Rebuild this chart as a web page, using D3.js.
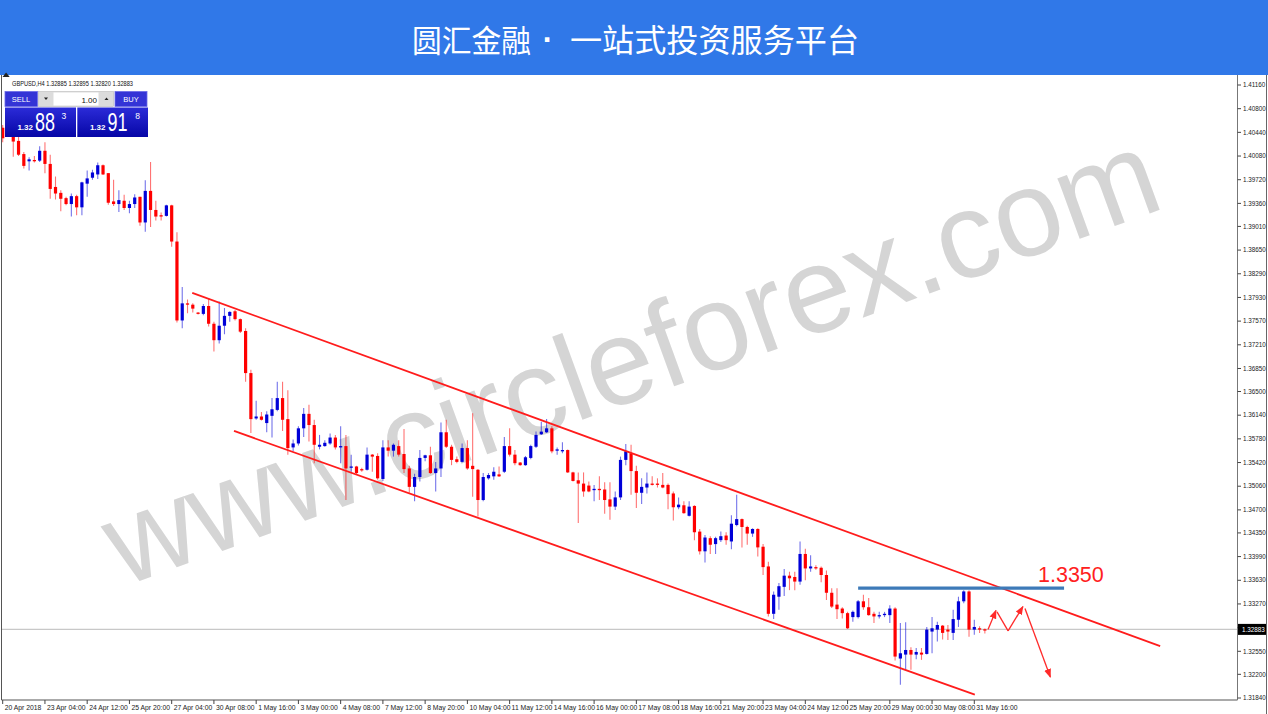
<!DOCTYPE html>
<html><head><meta charset="utf-8">
<script src="https://cdn.jsdelivr.net/npm/d3@7"></script>
<style>body{margin:0;background:#fff;}svg{display:block;}</style>
</head><body>
<svg id="c" width="1268" height="714"></svg>
<script>
// ---------- DATA ----------
const titleLeft = "圆汇金融", titleDot = "·", titleRight = "一站式投资服务平台";
const symbol = "GBPUSD,H4";
const watermark = "www.circleforex.com";
const timeLabels = ["20 Apr 2018","23 Apr 04:00","24 Apr 12:00","25 Apr 20:00","27 Apr 04:00","30 Apr 08:00","1 May 16:00","3 May 00:00","4 May 08:00","7 May 12:00","8 May 20:00","10 May 04:00","11 May 12:00","14 May 16:00","16 May 00:00","17 May 08:00","18 May 16:00","21 May 20:00","23 May 04:00","24 May 12:00","25 May 20:00","29 May 00:00","30 May 08:00","31 May 16:00"];
const barsPerLabel = 8;
const priceTicks = [1.41160,1.40800,1.40440,1.40080,1.39720,1.39360,1.39010,1.38650,1.38290,1.37930,1.37570,1.37210,1.36850,1.36500,1.36140,1.35780,1.35420,1.35060,1.34700,1.34350,1.33990,1.33630,1.33270,1.32910,1.32550,1.32200,1.31840];
const opens = [
1.4051,1.4051,1.4037,1.4031,1.4011,1.4000,1.4002,1.4001,1.4016,1.3996,
1.3961,1.3952,1.3944,1.3935,1.3947,1.3930,1.3966,1.3975,1.3980,1.3994,
1.3982,1.3939,1.3935,1.3940,1.3929,1.3935,1.3946,1.3907,1.3955,1.3926,
1.3918,1.3917,1.3933,1.3878,1.3758,1.3784,1.3782,1.3770,1.3768,1.3780,
1.3753,1.3728,1.3750,1.3765,1.3772,1.3760,1.3742,1.3678,1.3609,1.3612,
1.3602,1.3613,1.3622,1.3640,1.3608,1.3565,1.3571,1.3594,1.3616,1.3599,
1.3566,1.3567,1.3571,1.3580,1.3565,1.3567,1.3534,1.3536,1.3532,1.3531,
1.3554,1.3552,1.3517,1.3565,1.3560,1.3567,1.3555,1.3533,1.3505,1.3520,
1.3549,1.3553,1.3526,1.3533,1.3588,1.3566,1.3547,1.3543,1.3564,1.3537,
1.3531,1.3485,1.3518,1.3521,1.3524,1.3528,1.3567,1.3554,1.3542,1.3538,
1.3549,1.3566,1.3585,1.3588,1.3594,1.3560,1.3559,1.3561,1.3527,1.3515,
1.3510,1.3507,1.3500,1.3502,1.3501,1.3486,1.3475,1.3489,1.3546,1.3556,
1.3529,1.3496,1.3504,1.3510,1.3510,1.3508,1.3508,1.3495,1.3474,1.3477,
1.3461,1.3476,1.3437,1.3407,1.3427,1.3418,1.3424,1.3431,1.3422,1.3447,
1.3456,1.3444,1.3434,1.3441,1.3414,1.3384,1.3312,1.3338,1.3353,1.3370,
1.3368,1.3361,1.3403,1.3381,1.3383,1.3382,1.3371,1.3344,1.3326,1.3320,
1.3313,1.3307,1.3307,1.3331,1.3322,1.3312,1.3308,1.3310,1.3310,1.3320,
1.3244,1.3250,1.3257,1.3250,1.3253,1.3251,1.3285,1.3288,1.3294,1.3288,
1.3283,1.3303,1.3331,1.3346,1.3288,1.3290,1.32885];
const highs = [
1.4055,1.4063,1.4043,1.4040,1.4014,1.4006,1.4008,1.4023,1.4029,1.4010,
1.3977,1.3956,1.3946,1.3951,1.3949,1.3969,1.3986,1.3987,1.3998,1.3995,
1.3982,1.3972,1.3956,1.3949,1.3940,1.3950,1.3946,1.3971,1.3999,1.3940,
1.3922,1.3934,1.3934,1.3892,1.3809,1.3790,1.3784,1.3771,1.3783,1.3792,
1.3756,1.3787,1.3777,1.3772,1.3774,1.3761,1.3746,1.3683,1.3636,1.3619,
1.3620,1.3640,1.3665,1.3665,1.3652,1.3577,1.3597,1.3625,1.3630,1.3607,
1.3584,1.3576,1.3586,1.3584,1.3597,1.3584,1.3554,1.3537,1.3534,1.3565,
1.3555,1.3556,1.3576,1.3576,1.3571,1.3576,1.3593,1.3537,1.3525,1.3561,
1.3554,1.3566,1.3543,1.3603,1.3607,1.3569,1.3551,1.3571,1.3576,1.3617,
1.3532,1.3526,1.3526,1.3535,1.3536,1.3581,1.3594,1.3561,1.3543,1.3552,
1.3569,1.3589,1.3604,1.3608,1.3597,1.3565,1.3573,1.3562,1.3528,1.3527,
1.3527,1.3513,1.3508,1.3521,1.3512,1.3512,1.3498,1.3551,1.3570,1.3569,
1.3537,1.3518,1.3527,1.3521,1.3518,1.3526,1.3510,1.3498,1.3489,1.3483,
1.3483,1.3477,1.3441,1.3432,1.3430,1.3429,1.3437,1.3436,1.3462,1.3493,
1.3457,1.3446,1.3442,1.3442,1.3418,1.3391,1.3346,1.3359,1.3380,1.3376,
1.3376,1.3422,1.3411,1.3401,1.3386,1.3384,1.3378,1.3351,1.3351,1.3322,
1.3315,1.3317,1.3333,1.3341,1.3336,1.3315,1.3315,1.3315,1.3325,1.3322,
1.3298,1.3299,1.3261,1.3260,1.3260,1.3292,1.3307,1.3300,1.3295,1.3295,
1.3318,1.3338,1.3348,1.3348,1.3303,1.3293,1.32895];
const lows = [
1.4029,1.4042,1.4007,1.4008,1.3989,1.3986,1.3998,1.3999,1.3982,1.3943,
1.3942,1.3924,1.3933,1.3916,1.3918,1.3918,1.3946,1.3972,1.3973,1.3979,
1.3934,1.3932,1.3923,1.3926,1.3921,1.3929,1.3902,1.3893,1.3900,1.3910,
1.3910,1.3916,1.3870,1.3755,1.3746,1.3769,1.3770,1.3767,1.3766,1.3749,
1.3711,1.3723,1.3737,1.3756,1.3758,1.3739,1.3665,1.3587,1.3607,1.3606,
1.3588,1.3580,1.3620,1.3590,1.3554,1.3559,1.3568,1.3581,1.3574,1.3541,
1.3562,1.3566,1.3569,1.3562,1.3541,1.3485,1.3528,1.3524,1.3528,1.3530,
1.3528,1.3516,1.3514,1.3551,1.3551,1.3551,1.3526,1.3496,1.3483,1.3513,
1.3544,1.3525,1.3498,1.3520,1.3564,1.3538,1.3541,1.3542,1.3531,1.3490,
1.3460,1.3483,1.3516,1.3516,1.3520,1.3526,1.3551,1.3538,1.3537,1.3537,
1.3547,1.3564,1.3584,1.3587,1.3556,1.3554,1.3556,1.3526,1.3513,1.3450,
1.3490,1.3497,1.3483,1.3485,1.3464,1.3455,1.3470,1.3485,1.3538,1.3493,
1.3473,1.3479,1.3495,1.3507,1.3504,1.3503,1.3471,1.3454,1.3471,1.3464,
1.3460,1.3424,1.3402,1.3390,1.3403,1.3403,1.3421,1.3417,1.3410,1.3445,
1.3413,1.3417,1.3429,1.3399,1.3371,1.3308,1.3304,1.3318,1.3339,1.3348,
1.3348,1.3356,1.3363,1.3376,1.3379,1.3360,1.3333,1.3321,1.3304,1.3305,
1.3289,1.3300,1.3305,1.3318,1.3309,1.3298,1.3305,1.3307,1.3298,1.3241,
1.3204,1.3227,1.3227,1.3243,1.3242,1.3250,1.3252,1.3270,1.3273,1.3272,
1.3272,1.3292,1.3328,1.3277,1.3280,1.3283,1.32820];
const closes = [
1.4035,1.4048,1.4030,1.4010,1.3993,1.4003,1.4000,1.4016,1.3996,1.3958,
1.3951,1.3943,1.3935,1.3947,1.3930,1.3968,1.3974,1.3983,1.3994,1.3980,
1.3937,1.3935,1.3941,1.3929,1.3935,1.3945,1.3907,1.3955,1.3926,1.3916,
1.3917,1.3933,1.3878,1.3758,1.3784,1.3782,1.3776,1.3768,1.3780,1.3753,
1.3728,1.3750,1.3765,1.3771,1.3760,1.3741,1.3678,1.3608,1.3612,1.3607,
1.3615,1.3623,1.3640,1.3607,1.3564,1.3571,1.3594,1.3616,1.3599,1.3569,
1.3569,1.3572,1.3580,1.3565,1.3567,1.3533,1.3536,1.3526,1.3530,1.3554,
1.3551,1.3518,1.3565,1.3560,1.3569,1.3554,1.3532,1.3505,1.3520,1.3549,
1.3553,1.3526,1.3533,1.3588,1.3566,1.3546,1.3543,1.3564,1.3533,1.3532,
1.3485,1.3520,1.3523,1.3528,1.3521,1.3567,1.3554,1.3541,1.3538,1.3550,
1.3567,1.3584,1.3589,1.3594,1.3559,1.3562,1.3561,1.3527,1.3514,1.3510,
1.3498,1.3498,1.3502,1.3500,1.3485,1.3475,1.3489,1.3546,1.3559,1.3529,
1.3496,1.3505,1.3510,1.3508,1.3508,1.3504,1.3494,1.3474,1.3478,1.3465,
1.3475,1.3436,1.3407,1.3428,1.3417,1.3427,1.3430,1.3424,1.3449,1.3456,
1.3444,1.3434,1.3441,1.3413,1.3383,1.3312,1.3341,1.3354,1.3370,1.3366,
1.3361,1.3403,1.3381,1.3384,1.3381,1.3371,1.3344,1.3323,1.3319,1.3313,
1.3290,1.3315,1.3331,1.3322,1.3310,1.3308,1.3310,1.3312,1.3320,1.3247,
1.3252,1.3257,1.3250,1.3254,1.3250,1.3288,1.3290,1.3295,1.3283,1.3285,
1.3304,1.3331,1.3346,1.3288,1.3292,1.3288,1.32883];
const upperChannel = [[35.9, 1.3800], [219.2, 1.3263]];
const lowerChannel = [[43.8, 1.3590], [184.1, 1.3189]];
const resistanceLevel = 1.3351;
const resistanceSpan = [162, 201];
const resistanceLabel = "1.3350";
const forecastSegments = [
  [[186.6, 1.3288], [188.1, 1.3317], true],
  [[188.3, 1.3315], [190.4, 1.3286], false],
  [[190.4, 1.3286], [193.2, 1.3323], true],
  [[193.6, 1.3320], [198.4, 1.3216], true]
];
const bidPrice = 1.32883, askPrice = 1.32918;
const lotSize = "1.00";

// ---------- DRAW ----------
const W = 1268, H = 714;
const RED = "#ff0000", BLUE = "#0000d8";
const svg = d3.select("#c");
const x = d3.scaleLinear().domain([0, 184]).range([2.7, 974.3]);
const y = d3.scaleLinear().domain([1.31840, 1.41160]).range([698, 85]);
const plot = {left: 1.5, right: 1237.5, top: 75, bottom: 700};

svg.append("rect").attr("width", W).attr("height", H).attr("fill", "#fff");
const defs = svg.append("defs");
defs.append("clipPath").attr("id", "clip").append("rect")
  .attr("x", plot.left).attr("y", plot.top).attr("width", plot.right - plot.left).attr("height", plot.bottom - plot.top);
defs.append("marker").attr("id", "arr").attr("markerUnits", "userSpaceOnUse")
  .attr("markerWidth", 9).attr("markerHeight", 8).attr("refX", 8).attr("refY", 4).attr("orient", "auto")
  .append("path").attr("d", "M0,0.5 L9,4 L0,7.5 Z").attr("fill", "#ff2a2a");
const pg = defs.append("linearGradient").attr("id", "pbox").attr("x1", 0).attr("x2", 0).attr("y1", 0).attr("y2", 1);
pg.append("stop").attr("offset", "0%").attr("stop-color", "#2b2bd8");
pg.append("stop").attr("offset", "100%").attr("stop-color", "#0606a6");

const g = svg.append("g").attr("clip-path", "url(#clip)");

// watermark
g.append("text").attr("transform", "translate(645,397) rotate(-20)")
  .attr("text-anchor", "middle").attr("font-family", "Liberation Sans, Arial, sans-serif")
  .attr("font-size", 122).attr("fill", "#d5d5d5").text(watermark);

// current price line
g.append("line").attr("x1", plot.left).attr("x2", plot.right)
  .attr("y1", y(closes[closes.length - 1])).attr("y2", y(closes[closes.length - 1]))
  .attr("stroke", "#c8c8c8").attr("stroke-width", 1.2);

// candles
const bars = d3.range(opens.length).map(i => ({i, o: opens[i], h: highs[i], l: lows[i], c: closes[i]}));
const col = d => d.c > d.o ? BLUE : RED;
const cg = g.append("g");
cg.selectAll("line").data(bars).join("line")
  .attr("x1", d => x(d.i)).attr("x2", d => x(d.i))
  .attr("y1", d => y(d.h)).attr("y2", d => y(d.l))
  .attr("stroke", col).attr("stroke-opacity", 0.55).attr("stroke-width", 1.1);
cg.selectAll("rect").data(bars).join("rect")
  .attr("x", d => x(d.i) - 1.6).attr("width", 3.2)
  .attr("y", d => y(Math.max(d.o, d.c)))
  .attr("height", d => Math.max(1.3, Math.abs(y(d.o) - y(d.c))))
  .attr("fill", col);

// channel lines
[upperChannel, lowerChannel].forEach(ln => {
  g.append("line").attr("x1", x(ln[0][0])).attr("y1", y(ln[0][1]))
    .attr("x2", x(ln[1][0])).attr("y2", y(ln[1][1]))
    .attr("stroke", "#ff1c1c").attr("stroke-width", 1.8);
});

// resistance
g.append("line").attr("x1", x(resistanceSpan[0])).attr("x2", x(resistanceSpan[1]))
  .attr("y1", y(resistanceLevel)).attr("y2", y(resistanceLevel))
  .attr("stroke", "#3d7ab8").attr("stroke-width", 3.4);
g.append("text").attr("x", 1038).attr("y", y(resistanceLevel) - 6)
  .attr("font-family", "Liberation Sans, Arial, sans-serif").attr("font-size", 21.5)
  .attr("fill", "#ff2020").text(resistanceLabel);

// forecast arrows
forecastSegments.forEach(s => {
  const ln = g.append("line").attr("x1", x(s[0][0])).attr("y1", y(s[0][1]))
    .attr("x2", x(s[1][0])).attr("y2", y(s[1][1]))
    .attr("stroke", "#ff2a2a").attr("stroke-width", 1.3);
  if (s[2]) ln.attr("marker-end", "url(#arr)");
});

// axes frame
svg.append("line").attr("x1", plot.left).attr("x2", plot.left).attr("y1", plot.top).attr("y2", plot.bottom).attr("stroke", "#555").attr("stroke-width", 1);
svg.append("line").attr("x1", plot.left).attr("x2", plot.right).attr("y1", plot.bottom).attr("y2", plot.bottom).attr("stroke", "#555").attr("stroke-width", 1);
svg.append("line").attr("x1", plot.right).attr("x2", plot.right).attr("y1", plot.top).attr("y2", plot.bottom).attr("stroke", "#777").attr("stroke-width", 1);
svg.append("line").attr("x1", 1266.5).attr("x2", 1266.5).attr("y1", plot.top).attr("y2", H).attr("stroke", "#666").attr("stroke-width", 1);

// price axis
const pa = svg.append("g").attr("font-family", "Liberation Sans, Arial, sans-serif").attr("font-size", 6.3).attr("fill", "#222");
priceTicks.forEach(p => {
  pa.append("line").attr("x1", plot.right).attr("x2", plot.right + 3.5).attr("y1", y(p)).attr("y2", y(p)).attr("stroke", "#444");
  pa.append("text").attr("x", 1243).attr("y", y(p) + 2.2).text(p.toFixed(5));
});
const lastY = y(closes[closes.length - 1]);
pa.append("rect").attr("x", 1238).attr("y", lastY - 5.5).attr("width", 28).attr("height", 11).attr("fill", "#000");
pa.append("text").attr("x", 1242).attr("y", lastY + 2.2).attr("fill", "#fff").text(closes[closes.length - 1].toFixed(5));

// time axis
const ta = svg.append("g").attr("font-family", "Liberation Sans, Arial, sans-serif").attr("font-size", 6.8).attr("fill", "#222");
timeLabels.forEach((t, k) => {
  const xx = x(k * barsPerLabel);
  ta.append("line").attr("x1", xx).attr("x2", xx).attr("y1", plot.bottom).attr("y2", plot.bottom + 4).attr("stroke", "#444");
  ta.append("text").attr("x", xx + 2).attr("y", 709.5).text(t);
});

// header
svg.append("rect").attr("x", 0).attr("y", 0).attr("width", W).attr("height", 75).attr("fill", "#3078e8");
const hf = "Noto Sans CJK SC, sans-serif";
svg.append("text").attr("font-family", hf).attr("font-size", 31).attr("fill", "#fff")
  .attr("x", 412).attr("y", 52).attr("textLength", 119).attr("lengthAdjust", "spacingAndGlyphs").text(titleLeft);
svg.append("text").attr("font-family", "Liberation Sans, Arial, sans-serif").attr("font-size", 31).attr("font-weight", "bold").attr("fill", "#fff")
  .attr("x", 548).attr("y", 50).attr("text-anchor", "middle").text(titleDot);
svg.append("text").attr("font-family", hf).attr("font-size", 31.5).attr("fill", "#fff")
  .attr("x", 570).attr("y", 52).attr("textLength", 289).attr("lengthAdjust", "spacingAndGlyphs").text(titleRight);

// trade panel
const last = bars[bars.length - 1];
const pnl = svg.append("g").attr("font-family", "Liberation Sans, Arial, sans-serif");
pnl.append("path").attr("d", "M4,81 L8,86 L0,86 Z").attr("transform", "translate(2.5,-0.5) scale(0.9)").attr("fill", "#222");
pnl.append("text").attr("x", 12).attr("y", 85.5).attr("font-size", 6.4).attr("fill", "#111")
  .attr("textLength", 121).attr("lengthAdjust", "spacingAndGlyphs")
  .text(`${symbol} ${last.o.toFixed(5)} ${last.h.toFixed(5)} ${last.l.toFixed(5)} ${last.c.toFixed(5)}`);
pnl.append("rect").attr("x", 5).attr("y", 91.5).attr("width", 32.5).attr("height", 15).attr("fill", "#3434d6").attr("stroke", "#6a6ae8").attr("stroke-width", 0.8);
pnl.append("text").attr("x", 21).attr("y", 102).attr("text-anchor", "middle").attr("font-size", 7.5).attr("fill", "#fff").text("SELL");
pnl.append("rect").attr("x", 115).attr("y", 91.5).attr("width", 32).attr("height", 15).attr("fill", "#3434d6").attr("stroke", "#6a6ae8").attr("stroke-width", 0.8);
pnl.append("text").attr("x", 131).attr("y", 102).attr("text-anchor", "middle").attr("font-size", 7.5).attr("fill", "#fff").text("BUY");
pnl.append("rect").attr("x", 38.5).attr("y", 91.5).attr("width", 75).attr("height", 15).attr("fill", "#dcdcdc").attr("stroke", "#bbb").attr("stroke-width", 0.6);
pnl.append("rect").attr("x", 53.5).attr("y", 92.5).attr("width", 45).attr("height", 13).attr("fill", "#fff");
pnl.append("path").attr("d", "M44,97.5 L48,97.5 L46,100 Z").attr("fill", "#222");
pnl.append("path").attr("d", "M104.5,100 L108.5,100 L106.5,97.5 Z").attr("fill", "#222");
pnl.append("text").attr("x", 97).attr("y", 102.5).attr("text-anchor", "end").attr("font-size", 8).attr("fill", "#111").text(lotSize);
function priceBox(x0, w, price, bigX, supX) {
  const s = price.toFixed(5);
  pnl.append("rect").attr("x", x0).attr("y", 107.5).attr("width", w).attr("height", 29.5).attr("fill", "url(#pbox)");
  pnl.append("text").attr("x", bigX - 2).attr("y", 129.5).attr("text-anchor", "end").attr("font-size", 8).attr("font-weight", "bold").attr("fill", "#fff").text(s.slice(0, 4));
  pnl.append("text").attr("x", bigX).attr("y", 130.8).attr("font-size", 25).attr("fill", "#fff")
    .attr("textLength", 20).attr("lengthAdjust", "spacingAndGlyphs").text(s.slice(4, 6));
  pnl.append("text").attr("x", supX).attr("y", 118.5).attr("font-size", 8.5).attr("fill", "#fff").text(s.slice(6, 7));
}
priceBox(5, 71, bidPrice, 35, 61.5);
priceBox(77.3, 70.7, askPrice, 107.5, 135.3);
</script>
</body></html>
